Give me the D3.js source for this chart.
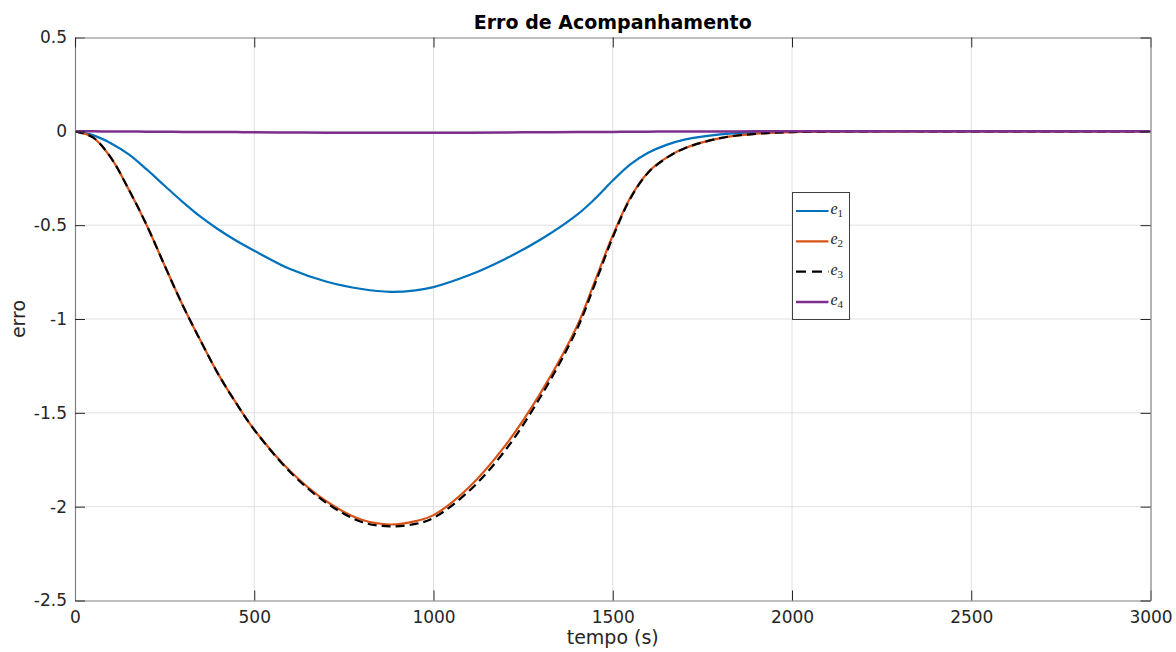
<!DOCTYPE html>
<html>
<head>
<meta charset="utf-8">
<script src="https://d3js.org/d3.v7.min.js"></script>
<style>
  body { margin: 0; background: #fff; }
  text { font-family: "DejaVu Sans", sans-serif; }
</style>
</head>
<body>
<svg id="chart" width="1176" height="652"></svg>
<script>
// time samples (s)
const tempo = [0, 50, 100, 150, 200, 250, 300, 350, 400, 450, 500, 600, 700, 800, 880, 950, 1000,
               1100, 1200, 1300, 1400, 1450, 1500, 1550, 1600, 1650, 1700, 1800, 1900, 2000, 2200, 2500, 3000];

const e1 = [0, -0.02, -0.063, -0.123, -0.203, -0.29, -0.376, -0.455, -0.523, -0.583, -0.636, -0.734, -0.80, -0.84, -0.855, -0.847, -0.83,
            -0.766, -0.68, -0.575, -0.445, -0.36, -0.262, -0.175, -0.113, -0.072, -0.044, -0.016, -0.005, -0.001, 0, 0, 0];
const e2 = [0, -0.032, -0.14, -0.31, -0.50, -0.715, -0.925, -1.115, -1.295, -1.45, -1.59, -1.81, -1.97, -2.07, -2.095, -2.077, -2.045,
            -1.895, -1.675, -1.39, -1.04, -0.80, -0.555, -0.35, -0.215, -0.14, -0.09, -0.036, -0.013, -0.004, 0, 0, 0];
const e3 = [0, -0.032, -0.14, -0.31, -0.50, -0.715, -0.925, -1.115, -1.295, -1.45, -1.59, -1.815, -1.978, -2.082, -2.105, -2.092, -2.06,
            -1.915, -1.70, -1.41, -1.055, -0.815, -0.565, -0.355, -0.218, -0.142, -0.091, -0.036, -0.013, -0.004, 0, 0, 0];
const e4 = [0, 0, -0.001, -0.001, -0.002, -0.002, -0.003, -0.003, -0.004, -0.004, -0.005, -0.006, -0.007, -0.007, -0.008, -0.008, -0.008,
            -0.007, -0.006, -0.005, -0.004, -0.003, -0.003, -0.002, -0.002, -0.001, -0.001, -0.001, 0, 0, 0, 0, 0];

const xTicks = [0, 500, 1000, 1500, 2000, 2500, 3000];
const yTicks = [0.5, 0, -0.5, -1, -1.5, -2, -2.5];

const seriesNames = ["e1", "e2", "e3", "e4"];
const seriesColors = ["#0072BD", "#D95319", "#000000", "#7E2F8E"];
const seriesData = [e1, e2, e3, e4];

const svg = d3.select("#chart");
const pLeft = 75, pRight = 1150.5, pTop = 37.5, pBottom = 600.5;

const x = d3.scaleLinear().domain([0, 3000]).range([pLeft, pRight]);
const y = d3.scaleLinear().domain([-2.5, 0.5]).range([pBottom, pTop]);

// grid
svg.append("g").selectAll("line")
  .data(xTicks.slice(1, -1))
  .join("line")
    .attr("x1", d => x(d)).attr("x2", d => x(d))
    .attr("y1", pTop).attr("y2", pBottom)
    .attr("stroke", "#e0e0e0").attr("stroke-width", 1);
svg.append("g").selectAll("line")
  .data(yTicks.slice(1, -1))
  .join("line")
    .attr("y1", d => y(d)).attr("y2", d => y(d))
    .attr("x1", pLeft).attr("x2", pRight)
    .attr("stroke", "#e0e0e0").attr("stroke-width", 1);

// clip
svg.append("clipPath").attr("id", "clip")
  .append("rect").attr("x", pLeft).attr("y", pTop)
  .attr("width", pRight - pLeft).attr("height", pBottom - pTop);

const line = d3.line()
  .x((d, i) => x(tempo[i]))
  .y(d => y(d))
  .curve(d3.curveCatmullRom.alpha(0.5));

const lines = svg.append("g").attr("clip-path", "url(#clip)");
seriesData.forEach((s, k) => {
  lines.append("path")
    .datum(s)
    .attr("d", line)
    .attr("fill", "none")
    .attr("stroke", seriesColors[k])
    .attr("stroke-width", k === 3 ? 2.5 : 2.2)
    .attr("stroke-dasharray", k === 2 ? "9,5" : null);
});

// axes
const xb = svg.append("g").attr("transform", `translate(0,${pBottom})`)
  .call(d3.axisBottom(x).tickValues(xTicks).tickSizeInner(-10).tickSizeOuter(0).tickPadding(10.5)
    .tickFormat(d3.format("d")));
const yl = svg.append("g").attr("transform", `translate(${pLeft},0)`)
  .call(d3.axisLeft(y).tickValues(yTicks).tickSizeInner(-10).tickSizeOuter(0).tickPadding(8)
    .tickFormat(d => String(d)));
const xt = svg.append("g").attr("transform", `translate(0,${pTop})`)
  .call(d3.axisTop(x).tickValues(xTicks).tickSizeInner(-10).tickSizeOuter(0).tickFormat(""));
const yr = svg.append("g").attr("transform", `translate(${pRight},0)`)
  .call(d3.axisRight(y).tickValues(yTicks).tickSizeInner(-10).tickSizeOuter(0).tickFormat(""));

[xb, yl, xt, yr].forEach(g => {
  g.select(".domain").attr("stroke", "#808080").attr("stroke-width", 1.2);
  g.selectAll(".tick line").attr("stroke", "#262626");
  g.selectAll(".tick text").attr("fill", "#262626")
    .style("font-family", "DejaVu Sans").style("font-size", "17px");
});

// title and labels
svg.append("text")
  .attr("x", (pLeft + pRight) / 2).attr("y", 29)
  .attr("text-anchor", "middle")
  .style("font-weight", "bold").style("font-size", "19px")
  .attr("fill", "#000")
  .text("Erro de Acompanhamento");

svg.append("text")
  .attr("x", (pLeft + pRight) / 2).attr("y", 644)
  .attr("text-anchor", "middle")
  .style("font-size", "19px")
  .attr("fill", "#262626")
  .text("tempo (s)");

svg.append("text")
  .attr("transform", `translate(25,${(pTop + pBottom) / 2}) rotate(-90)`)
  .attr("text-anchor", "middle")
  .style("font-size", "19px")
  .attr("fill", "#262626")
  .text("erro");

// legend
const lg = svg.append("g").attr("transform", "translate(792.5,192.5)");
lg.append("rect")
  .attr("width", 57).attr("height", 127)
  .attr("fill", "#fff").attr("stroke", "#404040").attr("stroke-width", 1);

seriesNames.forEach((name, k) => {
  const yy = 18.5 + k * 30.3;
  lg.append("line")
    .attr("x1", 3.5).attr("x2", 36).attr("y1", yy).attr("y2", yy)
    .attr("stroke", seriesColors[k])
    .attr("stroke-width", k === 3 ? 2.5 : 2.2)
    .attr("stroke-dasharray", k === 2 ? "10,6" : null);
  const t = lg.append("text")
    .attr("x", 38).attr("y", yy + 3)
    .style("font-family", "'Liberation Serif', serif")
    .attr("fill", "#262626");
  t.append("tspan").style("font-style", "italic").style("font-size", "16px").text("e");
  t.append("tspan").attr("dy", 3).style("font-size", "11px").text(name.slice(1));
});
</script>
</body>
</html>
